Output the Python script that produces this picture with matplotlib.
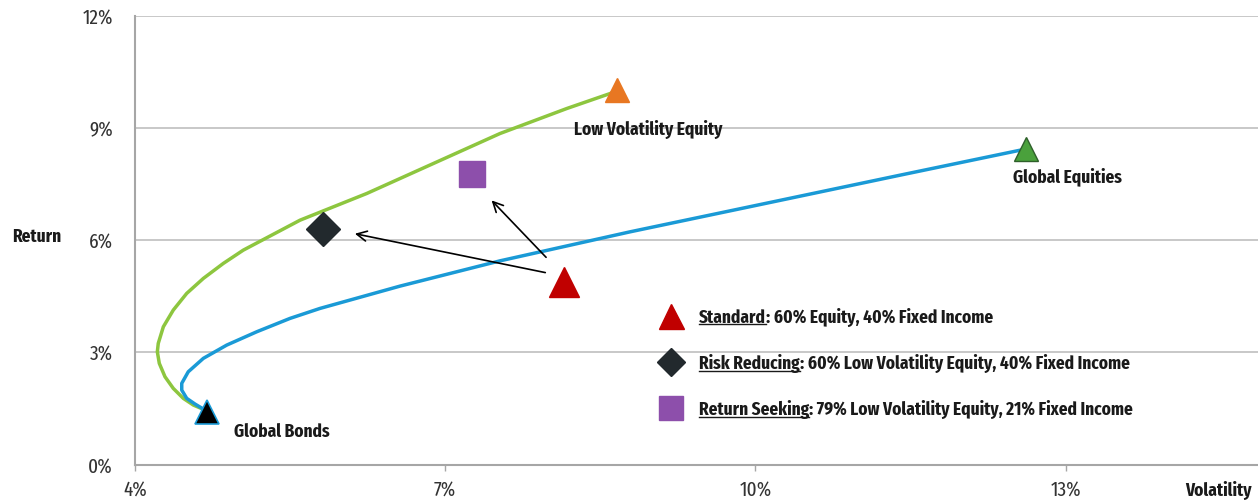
import matplotlib
matplotlib.use("Agg")
import matplotlib.pyplot as plt
from matplotlib.lines import Line2D
from matplotlib import font_manager as fm

# frontier curves (volatility %, return %)
blue_vol = [4.696, 4.677, 4.580, 4.500, 4.452, 4.452, 4.515, 4.661, 4.887, 5.177, 5.499, 5.789,
            6.563, 7.530, 8.787, 9.464, 10.431, 11.398, 12.559, 12.617]
blue_ret = [1.404, 1.457, 1.618, 1.770, 1.992, 2.171, 2.481, 2.840, 3.195, 3.551, 3.909, 4.176,
            4.773, 5.449, 6.225, 6.618, 7.179, 7.741, 8.409, 8.436]
green_vol = [4.696, 4.677, 4.564, 4.467, 4.370, 4.290, 4.235, 4.216, 4.225, 4.274, 4.370, 4.500,
             4.661, 4.854, 5.047, 5.596, 6.241, 6.885, 7.530, 8.175, 8.594, 8.662]
green_ret = [1.404, 1.457, 1.591, 1.770, 2.037, 2.348, 2.706, 3.016, 3.241, 3.684, 4.131, 4.578,
             4.979, 5.380, 5.735, 6.537, 7.251, 8.053, 8.856, 9.524, 9.925, 10.013]

# assets
asset_names = ["Global Bonds", "Low Volatility Equity", "Global Equities"]
asset_vol = [4.70, 8.66, 12.62]
asset_ret = [1.40, 10.01, 8.44]

# portfolios
port_names = ["Standard", "Risk Reducing", "Return Seeking"]
port_desc = [": 60% Equity, 40% Fixed Income",
             ": 60% Low Volatility Equity, 40% Fixed Income",
             ": 79% Low Volatility Equity, 21% Fixed Income"]
port_vol = [8.15, 5.815, 7.256]
port_ret = [4.88, 6.30, 7.76]

xticks = [4, 7, 10, 13]
yticks = [0, 3, 6, 9, 12]


def width_kind(fn):
    fn = fn.lower().replace("-", "").replace(" ", "").replace("_", "")
    if "extracondensed" in fn:
        return "extra"
    if "semicondensed" in fn or "ultracondensed" in fn:
        return None
    if "condensed" in fn or "narrow" in fn:
        return "cond"
    return None


def pick_font(target, kinds, fallback_weight):
    # look for an installed condensed face, else fall back to Roboto
    for kind in kinds:
        best = None
        for f in fm.fontManager.ttflist:
            if f.style != "normal" or width_kind(f.fname) != kind:
                continue
            w = f.weight if isinstance(f.weight, int) else fm.weight_dict.get(f.weight, 400)
            score = abs(w - target)
            if best is None or score < best[0]:
                best = (score, f.fname)
        if best is not None:
            return fm.FontProperties(fname=best[1])
    return fm.FontProperties(family="Roboto", weight=fallback_weight)


fp_bold = pick_font(700, ["extra", "cond"], "bold")
fp_light = pick_font(400, ["extra", "cond"], "light")

fig = plt.figure(figsize=(12.58, 5.01), dpi=100)
ax = fig.add_axes([135/1258, 1 - 464.5/501, 1 - 135/1258, (464.5 - 16)/501])
ax.set_xlim(4, 14.86)
ax.set_ylim(0, 12)

ax.plot(green_vol, green_ret, color="#8DC63F", lw=2.5, solid_capstyle="round", solid_joinstyle="round", zorder=3)
ax.plot(blue_vol, blue_ret, color="#1A9AD6", lw=2.5, solid_capstyle="round", solid_joinstyle="round", zorder=3)

# asset markers
ax.plot(asset_vol[0], asset_ret[0], marker="^", ms=17, color="black", mec="#1A9AD6", mew=1.2, zorder=5)
ax.plot(asset_vol[1], asset_ret[1], marker="^", ms=17, color="#E87722", mec="#E87722", zorder=5)
ax.plot(asset_vol[2], asset_ret[2], marker="^", ms=17, color="#4AA13C", mec="#2E5F2A", mew=1, zorder=5)

# portfolio markers
ax.plot(port_vol[0], port_ret[0], marker="^", ms=21, color="#C00000", mec="#C00000", zorder=5)
ax.plot(port_vol[1], port_ret[1], marker="D", ms=17, color="#22292D", mec="#22292D", zorder=5)
ax.plot(port_vol[2], port_ret[2], marker="s", ms=19, color="#8D4FAB", mec="#8D4FAB", zorder=5)

# arrows from standard portfolio
arrow_kw = dict(arrowstyle="->", color="black", lw=1.2, mutation_scale=18)
ax.annotate("", xy=(6.10, 6.19), xytext=(7.994, 5.12), arrowprops=arrow_kw, zorder=4)
ax.annotate("", xy=(7.43, 7.12), xytext=(7.994, 5.49), arrowprops=arrow_kw, zorder=4)

# asset labels
fs = 13.5
lab_kw = dict(fontproperties=fp_bold, fontsize=fs, color="#1a1a1a", va="center", ha="left")
ax.text(4.957, 0.87, asset_names[0], **lab_kw)
ax.text(8.245, 8.97, asset_names[1], **lab_kw)
ax.text(12.49, 7.69, asset_names[2], **lab_kw)

# custom legend
leg_y = [3.92, 2.69, 1.46]
leg_marker = [dict(marker="^", ms=18, color="#C00000"),
              dict(marker="D", ms=14, color="#22292D"),
              dict(marker="s", ms=17, color="#8D4FAB")]
heads = []
for i in range(3):
    ax.plot(9.18, leg_y[i] + 0.05, linestyle="none", **leg_marker[i], zorder=5)
    t = ax.text(9.455, leg_y[i], port_names[i], fontproperties=fp_bold, fontsize=fs,
                color="#1a1a1a", va="center", ha="left", zorder=5)
    ax.annotate(port_desc[i], xy=(1, 0), xycoords=t, va="bottom", ha="left",
                fontproperties=fp_bold, fontsize=fs, color="#1a1a1a", zorder=5)
    heads.append(t)

# axes styling
for s in ["top", "right"]:
    ax.spines[s].set_visible(False)
for s in ["left", "bottom"]:
    ax.spines[s].set_color("#A6A6A6")
    ax.spines[s].set_linewidth(1.5)
ax.set_xticks(xticks)
ax.set_xticklabels([f"{v}%" for v in xticks], fontproperties=fp_light, fontsize=15)
ax.set_yticks(yticks)
ax.set_yticklabels([f"{v}%" for v in yticks], fontproperties=fp_light, fontsize=15)
ax.tick_params(axis="x", length=4, width=1, color="#A6A6A6", labelcolor="#333333", pad=7)
ax.tick_params(axis="y", length=0, labelcolor="#333333", pad=16)
ax.yaxis.grid(True, color="#BFBFBF", lw=1.2)
ax.set_axisbelow(True)

fig.text(12/1258, 1 - 237/501, "Return", fontproperties=fp_bold, fontsize=fs, color="#1a1a1a", va="center", ha="left")
fig.text(1252/1258, 1 - 490/501, "Volatility", fontproperties=fp_bold, fontsize=fs, color="#1a1a1a", va="center", ha="right")

# underline the portfolio names
fig.canvas.draw()
inv = fig.transFigure.inverted()
for t in heads:
    bb = t.get_window_extent()
    (x0, y0), (x1, _) = inv.transform([(bb.x0, bb.y0 + 2.5), (bb.x1, bb.y0 + 2.5)])
    fig.add_artist(Line2D([x0, x1], [y0, y0], color="#1a1a1a", lw=1.0))

fig.savefig("out.png", dpi=100)
